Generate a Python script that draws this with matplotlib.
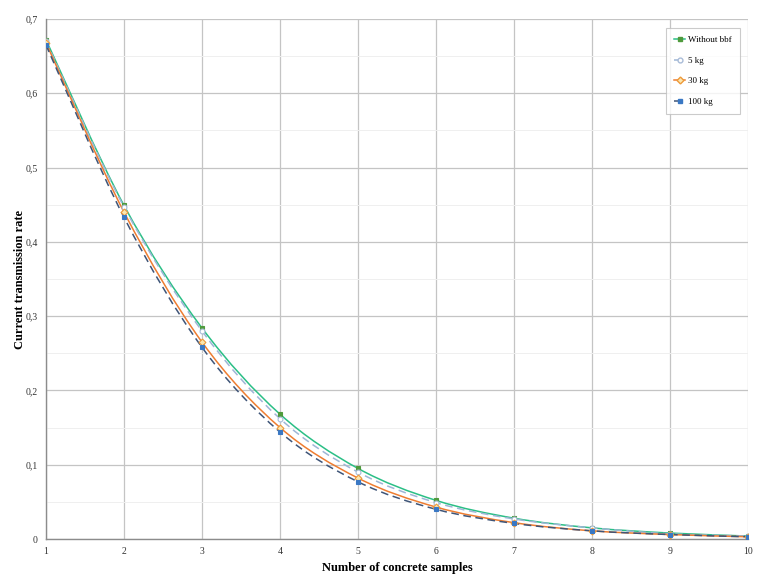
import numpy as np
import matplotlib
matplotlib.use("Agg")
import matplotlib.pyplot as plt
from matplotlib.path import Path
from matplotlib.patches import PathPatch
from matplotlib.ticker import MultipleLocator, FuncFormatter

plt.rcParams["font.family"] = ["Liberation Serif", "DejaVu Serif"]

samples = [1, 2, 3, 4, 5, 6, 7, 8, 9, 10]
without_bbf = [0.672, 0.449, 0.284, 0.168, 0.095, 0.052, 0.028, 0.015, 0.008, 0.004]
kg5 = [0.670, 0.447, 0.280, 0.162, 0.090, 0.049, 0.027, 0.015, 0.007, 0.004]
kg30 = [0.668, 0.440, 0.265, 0.150, 0.082, 0.043, 0.022, 0.011, 0.006, 0.003]
kg100 = [0.665, 0.433, 0.258, 0.144, 0.077, 0.040, 0.021, 0.011, 0.006, 0.003]


def smooth_path(x, y):
    # Catmull-Rom style bezier through the points (like Excel smoothed lines)
    x = np.asarray(x, float)
    y = np.asarray(y, float)
    verts = [(x[0], y[0])]
    codes = [Path.MOVETO]
    n = len(x)
    for i in range(n - 1):
        p0 = np.array([x[max(i - 1, 0)], y[max(i - 1, 0)]])
        p1 = np.array([x[i], y[i]])
        p2 = np.array([x[i + 1], y[i + 1]])
        p3 = np.array([x[min(i + 2, n - 1)], y[min(i + 2, n - 1)]])
        c1 = p1 + (p2 - p0) / 6
        c2 = p2 - (p3 - p1) / 6
        verts += [tuple(c1), tuple(c2), tuple(p2)]
        codes += [Path.CURVE4] * 3
    return Path(verts, codes)


fig = plt.figure(figsize=(7.68, 5.86), dpi=100)
ax = fig.add_axes([0.0599, 0.0802, 0.9141, 0.8874])

series = [
    ("Without bbf", without_bbf, "#2bbf86", "-", "s", "#4f9a3c", "#4f9a3c", 3.0),
    ("5 kg", kg5, "#9fb6d6", (0, (5, 3)), "o", "white", "#a9bcd8", 3.5),
    ("30 kg", kg30, "#ee7d31", "-", "D", "#fbe7b0", "#ee9a3a", 3.5),
    ("100 kg", kg100, "#3f5578", (0, (5, 3)), "s", "#3a78c4", "#3a78c4", 3.5),
]

for label, vals, lc, ls, mk, mfc, mec, ms in series:
    ax.add_patch(PathPatch(smooth_path(samples, vals), facecolor="none",
                           edgecolor=lc, linestyle=ls, lw=1.1, zorder=3))
    ax.plot(samples, vals, linestyle="none", marker=mk, markersize=ms,
            markerfacecolor=mfc, markeredgecolor=mec, markeredgewidth=0.8, zorder=4)
    ax.plot([], [], color=lc, linestyle=ls, lw=1.1, marker=mk, markersize=ms,
            markerfacecolor=mfc, markeredgecolor=mec, label=label)

ax.set_xlim(1, 10)
ax.set_ylim(0, 0.7)
ax.xaxis.set_major_locator(MultipleLocator(1))
ax.yaxis.set_major_locator(MultipleLocator(0.1))
ax.yaxis.set_minor_locator(MultipleLocator(0.05))
ax.yaxis.set_major_formatter(FuncFormatter(lambda v, p: "0" if abs(v) < 1e-9 else f"{v:.1f}".replace(".", ",")))
ax.xaxis.set_major_formatter(FuncFormatter(lambda v, p: f"{int(round(v))}"))

ax.grid(True, which="major", color="#c4c4c4", lw=0.9)
ax.grid(True, which="minor", axis="y", color="#efefef", lw=0.7)
ax.set_axisbelow(True)
ax.tick_params(which="both", length=0, labelsize=7, colors="#333333", pad=6)
for s in ["top", "right"]:
    ax.spines[s].set_visible(False)
for s in ["left", "bottom"]:
    ax.spines[s].set_color("#8c8c8c")
    ax.spines[s].set_linewidth(1.0)

ax.set_xlabel("Number of concrete samples", fontsize=9, fontweight="bold")
ax.set_ylabel("Current transmission rate", fontsize=9, fontweight="bold")
ax.xaxis.set_label_coords(0.5, -0.056)
ax.yaxis.set_label_coords(-0.037, 0.5)
ax.xaxis.label.set_va("center")
ax.yaxis.label.set_va("center")

leg = ax.legend(loc="upper right", bbox_to_anchor=(0.9886, 0.983), fontsize=6.5,
                frameon=True, fancybox=False, handlelength=1.3, handletextpad=0.3,
                labelspacing=1.35, borderpad=0.9, borderaxespad=0.0)
leg.get_frame().set_edgecolor("#bfbfbf")
leg.get_frame().set_linewidth(0.8)

fig.savefig("out.png", dpi=100)
